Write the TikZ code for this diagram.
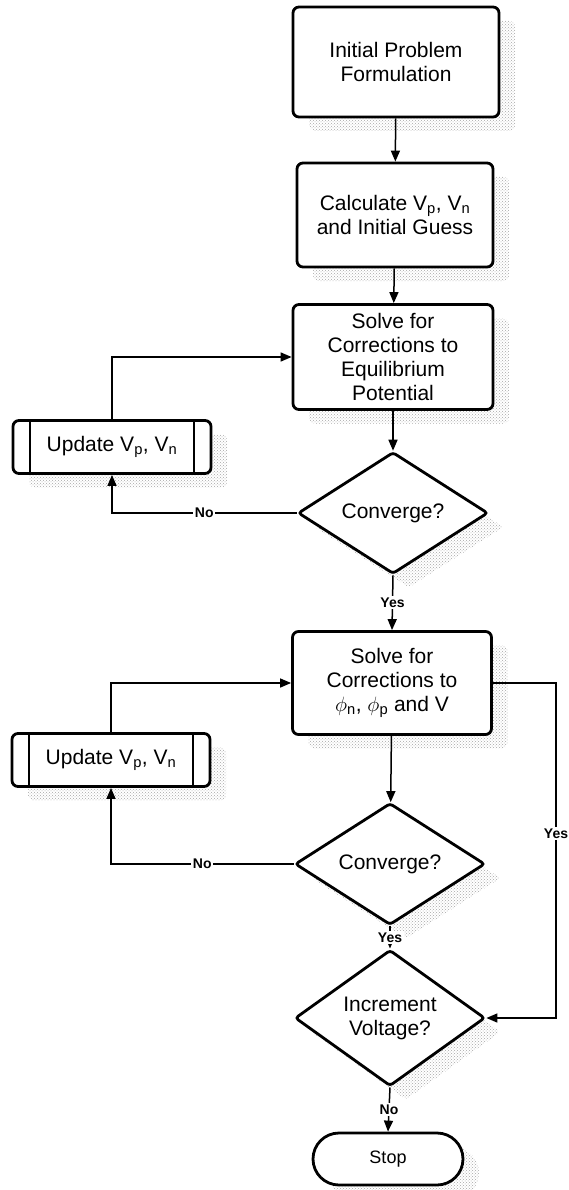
\documentclass[tikz,border=0pt]{standalone}
\usepackage{fontspec}
\setmainfont{Liberation Sans}
\usepackage{tikz}
\usetikzlibrary{arrows.meta}
\usetikzlibrary{shapes.geometric,shapes.misc}
\usetikzlibrary{shadows}
\usetikzlibrary{patterns}

\begin{document}
\begin{tikzpicture}[x=1pt,y=1pt,
  stipple/.style={drop shadow={shadow xshift=16pt,shadow yshift=-14pt,opacity=1,fill=none,
    pattern=crosshatch dots,pattern color=black!35}},
  box/.style={draw,line width=2.8pt,rounded corners=6pt,fill=white,align=center,inner sep=0pt,
    font=\fontsize{21}{24}\selectfont,stipple},
  decision/.style={diamond,draw,line width=2.8pt,rounded corners=3pt,fill=white,align=center,inner sep=0pt,
    minimum width=190pt,minimum height=102pt,font=\fontsize{21}{24}\selectfont,stipple},
  subproc/.style={box,minimum width=198pt,minimum height=53pt,
    path picture={\draw[line width=1.6pt]
      ([xshift=17pt]path picture bounding box.north west) -- ([xshift=17pt]path picture bounding box.south west)
      ([xshift=-17pt]path picture bounding box.north east) -- ([xshift=-17pt]path picture bounding box.south east);}},
  terminal/.style={rounded rectangle,draw,line width=2.8pt,fill=white,inner sep=0pt,
    minimum width=150pt,minimum height=52pt,font=\fontsize{18}{20}\selectfont,stipple},
  arr/.style={line width=1.5pt,-{Triangle[length=11pt,width=9pt]}},
  lbl/.style={fill=white,inner sep=1.5pt,font=\fontsize{14}{16}\selectfont\bfseries}]
  \useasboundingbox (0,0) rectangle (569,-1190);

  %main column
  \node[box,minimum width=206pt,minimum height=110pt] (init) at (396,-62) {Initial Problem\\Formulation};
  \node[box,minimum width=196pt,minimum height=104pt] (calc) at (395,-215)
    {Calculate V\textsubscript{p}, V\textsubscript{n}\\and Initial Guess};
  \node[box,minimum width=200pt,minimum height=105pt] (solveeq) at (393,-357)
    {Solve for\\Corrections to\\Equilibrium\\Potential};
  \node[decision] (convone) at (393,-513) {Converge?};
  \node[box,minimum width=199pt,minimum height=103pt] (solvephi) at (392,-683)
    {Solve for\\Corrections to\\$\phi$\textsubscript{n}, $\phi$\textsubscript{p} and V};
  \node[decision] (convtwo) at (390,-864) {Converge?};
  \node[decision,minimum height=100pt] (incr) at (390,-1018) {Increment\\Voltage?};
  \node[terminal] (stop) at (388,-1159) {Stop};

  %update boxes
  \node[subproc] (updone) at (112,-447) {Update V\textsubscript{p}, V\textsubscript{n}};
  \node[subproc] (updtwo) at (111,-760) {Update V\textsubscript{p}, V\textsubscript{n}};

  %flow
  \draw[arr] (init) -- (calc);
  \draw[arr] (calc) -- (solveeq);
  \draw[arr] (solveeq) -- (convone);
  \draw[arr] (convone.west) -- node[lbl]{No} (convone.west -| updone.south) -- (updone.south);
  \draw[arr] (updone.north) |- (solveeq.west);
  \draw[arr] (convone.south) -- node[lbl]{Yes} (solvephi.north);
  \draw[arr] (solvephi) -- (convtwo);
  \draw[arr] (convtwo.west) -- node[lbl]{No} (convtwo.west -| updtwo.south) -- (updtwo.south);
  \draw[arr] (updtwo.north) |- (solvephi.west);
  \draw[arr] (convtwo.south) -- node[lbl]{Yes} (incr.north);
  \coordinate (yesturn) at (556,-683);
  \draw[arr] (solvephi.east) -- (yesturn) -- node[lbl,pos=.45]{Yes} (yesturn |- incr.east) -- (incr.east);
  \draw[arr] (incr.south) -- node[lbl]{No} (stop.north);
\end{tikzpicture}
\end{document}
